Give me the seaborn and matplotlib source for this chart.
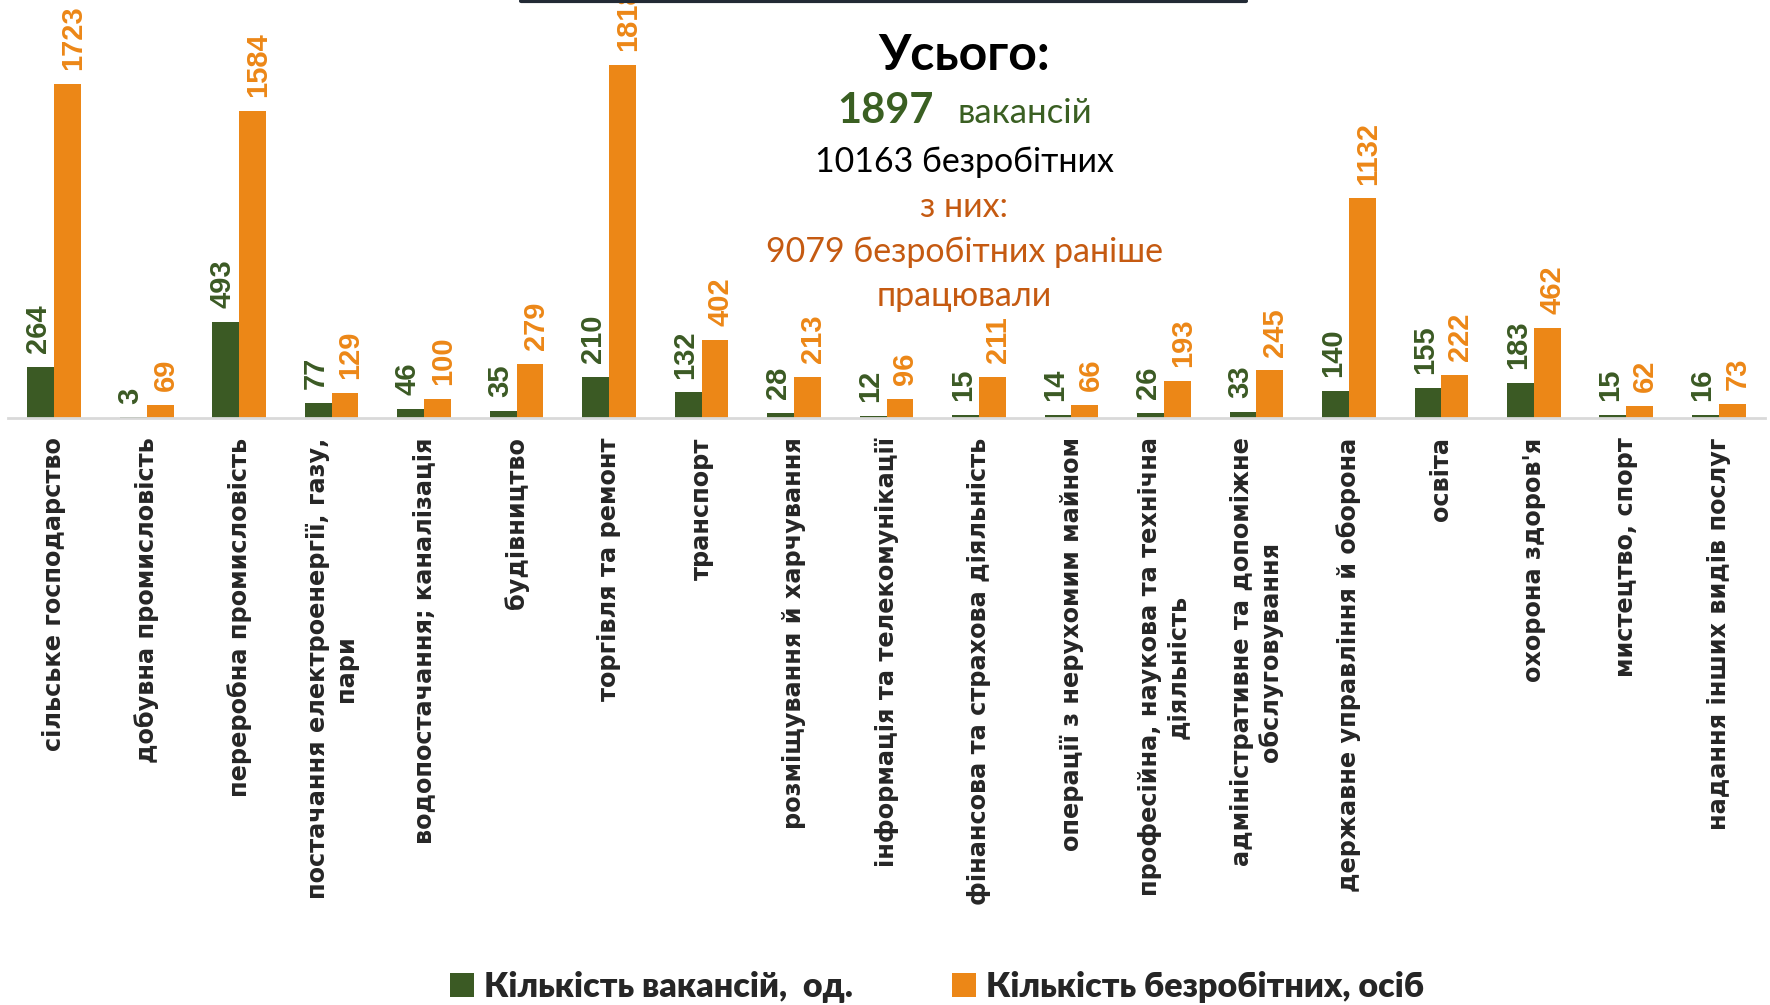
import pandas as pd
import numpy as np
import seaborn as sns
import matplotlib.pyplot as plt
from matplotlib.lines import Line2D
from matplotlib.patches import Patch

# galuzi ekonomiky
categories = [
    "сільське господарство",
    "добувна промисловість",
    "переробна промисловість",
    "постачання електроенергії, газу,\nпари",
    "водопостачання; каналізація",
    "будівництво",
    "торгівля та ремонт",
    "транспорт",
    "розміщування й харчування",
    "інформація та телекомунікації",
    "фінансова та страхова діяльність",
    "операції з нерухомим майном",
    "професійна, наукова та технічна\nдіяльність",
    "адміністративне та допоміжне\nобслуговування",
    "державне управління й оборона",
    "освіта",
    "охорона здоров'я",
    "мистецтво, спорт",
    "надання інших видів послуг",
]
vacancies = [264, 3, 493, 77, 46, 35, 210, 132, 28, 12, 15, 14, 26, 33, 140, 155, 183, 15, 16]
unemployed = [1723, 69, 1584, 129, 100, 279, 1818, 402, 213, 96, 211, 66, 193, 245, 1132, 222, 462, 62, 73]
series_names = ["Кількість вакансій,  од.", "Кількість безробітних, осіб"]

green = "#3b5a24"
orange = "#ec8717"
brown = "#c55a11"

df = pd.DataFrame({
    "cat": categories * 2,
    "value": vacancies + unemployed,
    "series": [series_names[0]] * len(categories) + [series_names[1]] * len(categories),
})

sns.set_style("white")
plt.rcParams['font.family'] = ['DejaVu Sans']

fig = plt.figure(figsize=(17.7, 10.05), dpi=100)
ax = fig.add_axes([8 / 1770, 1 - 418 / 1005, 1757 / 1770, 418 / 1005])

sns.barplot(data=df, x="cat", y="value", hue="series", palette=[green, orange],
            saturation=1, width=0.58, gap=0, linewidth=0, ax=ax, legend=False)

ax.set_xlim(-0.5, len(categories) - 0.5)
ax.set_ylim(0, 2155)

# pidpysy znachen
for cont, col, dx in zip(ax.containers, [green, orange], [-2, 4]):
    for bar in cont:
        h = bar.get_height()
        ax.annotate(f"{int(round(h))}", (bar.get_x() + bar.get_width() / 2, h),
                    xytext=(dx, 10), textcoords="offset points",
                    rotation=90, ha="center", va="bottom",
                    color=col, fontsize=21, fontweight="bold",
                    family="Liberation Sans", annotation_clip=False)

ax.set_xlabel("")
ax.set_ylabel("")
ax.set_yticks([])
ax.set_xticks(range(len(categories)))
ax.set_xticklabels(categories, rotation=90, fontsize=17.3, fontweight="bold",
                   va="top", ha="center", multialignment="center")
ax.tick_params(axis="x", length=0, pad=14)
for s in ["top", "left", "right"]:
    ax.spines[s].set_visible(False)
ax.spines["bottom"].set_color("#d9d9d9")
ax.spines["bottom"].set_linewidth(2)

# temna liniya vhori
fig.add_artist(Line2D([521 / 1770, 1246 / 1770], [1 - 1.5 / 1005] * 2,
                      color="#222a35", lw=3))

# tekstovyi blok
cx = 964 / 1770
def fy(px):
    return 1 - px / 1005

fig.text(cx, fy(70), "Усього:", ha="center", va="baseline", fontsize=36,
         fontweight="bold", family="Lato", color="black")
fig.text(934 / 1770, fy(123), "1897", ha="right", va="baseline", fontsize=30,
         fontweight="bold", family="Lato", color="#3a5f22")
fig.text(957 / 1770, fy(123), "вакансій", ha="left", va="baseline", fontsize=25,
         family="Lato", color="#3a5f22")
fig.text(cx, fy(172), "10163 безробітних", ha="center", va="baseline",
         fontsize=24.5, family="Lato", color="black")
fig.text(cx, fy(217), "з них:", ha="center", va="baseline",
         fontsize=24.5, family="Lato", color=brown)
fig.text(cx, fy(262), "9079 безробітних раніше", ha="center", va="baseline",
         fontsize=24.5, family="Lato", color=brown)
fig.text(cx, fy(306), "працювали", ha="center", va="baseline",
         fontsize=24.5, family="Lato", color=brown)

# legenda
handles = [Patch(facecolor=green, edgecolor="none"), Patch(facecolor=orange, edgecolor="none")]
fig.legend(handles, series_names, loc="center", bbox_to_anchor=(937 / 1770, 0.018),
           ncol=2, frameon=False, handlelength=0.7, handleheight=0.7,
           handletextpad=0.3, columnspacing=2.9,
           prop={"family": "Lato", "weight": "heavy", "size": 24.5})

fig.savefig("out.png", dpi=100)
